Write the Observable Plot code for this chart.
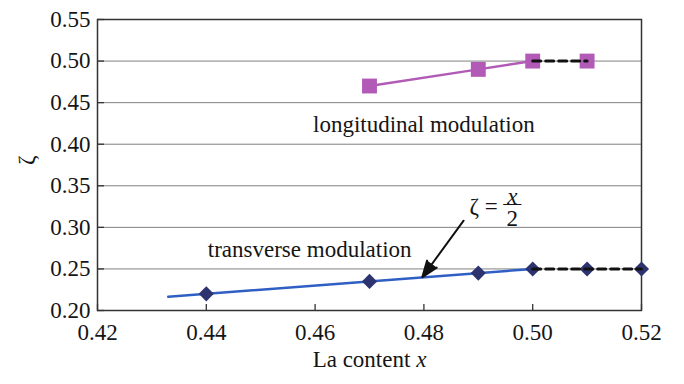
<!DOCTYPE html>
<html><head><meta charset="utf-8">
<script src="https://cdn.jsdelivr.net/npm/d3@7"></script>
<script src="https://cdn.jsdelivr.net/npm/@observablehq/plot@0.6"></script>
<style>
body{margin:0;background:#fff}
#chart svg text{font-family:"Liberation Serif","Times New Roman",serif !important;}
</style>
</head><body><div id="chart"></div>
<script>
const xTicks = [0.42, 0.44, 0.46, 0.48, 0.50, 0.52];
const yTicks = [0.20, 0.25, 0.30, 0.35, 0.40, 0.45, 0.50, 0.55];
const longX = [0.47, 0.49, 0.50, 0.51];
const longY = [0.47, 0.49, 0.50, 0.50];
const transX = [0.44, 0.47, 0.49, 0.50, 0.51, 0.52];
const transY = [0.22, 0.235, 0.245, 0.25, 0.25, 0.25];
const fitX = [0.433, 0.50];
const fitY = [0.2165, 0.25];
const labelText = ["longitudinal modulation", "transverse modulation"];
const labelX = [0.48, 0.459];
const labelY = [0.423, 0.273];
const arrowFrom = [0.4873, 0.308];
const arrowTo = [0.4797, 0.240];
const eqAt = [0.4924, 0.325];
const xLabel = "La content x";
const yLabel = "ζ";

const long = longX.map((x, i) => ({x, y: longY[i]}));
const trans = transX.map((x, i) => ({x, y: transY[i]}));
const fit = fitX.map((x, i) => ({x, y: fitY[i]}));
const labels = labelText.map((t, i) => ({t, x: labelX[i], y: labelY[i]}));
const eq = [{x: eqAt[0], y: eqAt[1]}];

const W = 684, H = 384, mL = 97, mR = 43, mT = 19, mB = 74;
const pw = W - mL - mR, ph = H - mT - mB;
const font = "Liberation Serif";
const purple = "#b15bb7", navy = "#2d336f", blue = "#2f5fc4";
const ink = "#151515";

const chart = Plot.plot({
  width: W, height: H,
  marginLeft: mL, marginRight: mR, marginTop: mT, marginBottom: mB,
  style: {fontFamily: font, fontSize: "23px", color: ink, background: "#fff"},
  x: {domain: [0.42, 0.52]},
  y: {domain: [0.20, 0.55]},
  marks: [
    Plot.gridY(yTicks, {stroke: "#808080", strokeOpacity: 1, strokeWidth: 1}),
    Plot.tickY(yTicks, {y: d => d, stroke: "#333", strokeWidth: 1.3, insetRight: pw - 7}),
    Plot.tickX(xTicks, {x: d => d, stroke: "#333", strokeWidth: 1.3, insetTop: ph - 6}),
    Plot.axisX(xTicks, {tickSize: 0, tickPadding: 13, tickFormat: d3.format(".2f"), label: null, fontSize: 23, fontFamily: font}),
    Plot.axisY(yTicks, {tickSize: 0, tickPadding: 7, tickFormat: d3.format(".2f"), label: null, fontSize: 23, fontFamily: font}),
    Plot.frame({stroke: "#333", strokeWidth: 1.5}),
    Plot.line(long.slice(0, 3), {x: "x", y: "y", stroke: purple, strokeWidth: 2.5}),
    Plot.line(fit, {x: "x", y: "y", stroke: blue, strokeWidth: 2.5}),
    Plot.dot(long, {x: "x", y: "y", symbol: "square", r: 8.4, fill: purple}),
    Plot.dot(trans, {x: "x", y: "y", symbol: "diamond2", r: 6.8, fill: navy}),
    Plot.line(long.slice(2), {x: "x", y: "y", stroke: "#111", strokeWidth: 3, strokeDasharray: "8,5"}),
    Plot.line(trans.slice(3), {x: "x", y: "y", stroke: "#111", strokeWidth: 3, strokeDasharray: "8,5"}),
    Plot.text(labels, {x: "x", y: "y", text: "t", fill: ink, fontSize: 23, fontFamily: font}),
    Plot.arrow([0], {x1: () => arrowFrom[0], y1: () => arrowFrom[1], x2: () => arrowTo[0], y2: () => arrowTo[1],
      stroke: "#111", fill: "#111", strokeWidth: 2, headLength: 13, headAngle: 40}),
    Plot.text(eq, {x: "x", y: "y", text: () => "ζ", dx: -17, fill: ink, fontSize: 23, fontFamily: font}),
    Plot.text(eq, {x: "x", y: "y", text: () => "=", dx: 0, fill: ink, fontSize: 23, fontFamily: font}),
    Plot.text(eq, {x: "x", y: "y", text: () => "x", dx: 21, dy: -10, fontStyle: "italic", fill: ink, fontSize: 23, fontFamily: font}),
    Plot.text(eq, {x: "x", y: "y", text: () => "—", dx: 21, dy: -3, fill: ink, fontSize: 18, fontFamily: font}),
    Plot.text(eq, {x: "x", y: "y", text: () => "2", dx: 21, dy: 12, fill: ink, fontSize: 23, fontFamily: font}),
    Plot.text([0], {frameAnchor: "bottom", dy: 56, text: () => xLabel, fill: ink, fontSize: 23, fontFamily: font}),
    Plot.text([0], {frameAnchor: "left", dx: -71, rotate: -90, text: () => yLabel, fill: ink, fontSize: 23, fontFamily: font})
  ]
});
document.getElementById("chart").appendChild(chart);
// italicize the variable in the x-axis label
chart.querySelectorAll("text").forEach(t => {
  if (t.textContent === xLabel) {
    t.textContent = "";
    const a = document.createElementNS("http://www.w3.org/2000/svg", "tspan");
    a.textContent = "La content ";
    const b = document.createElementNS("http://www.w3.org/2000/svg", "tspan");
    b.textContent = "x";
    b.setAttribute("font-style", "italic");
    t.appendChild(a); t.appendChild(b);
  }
});
</script>
</body></html>
